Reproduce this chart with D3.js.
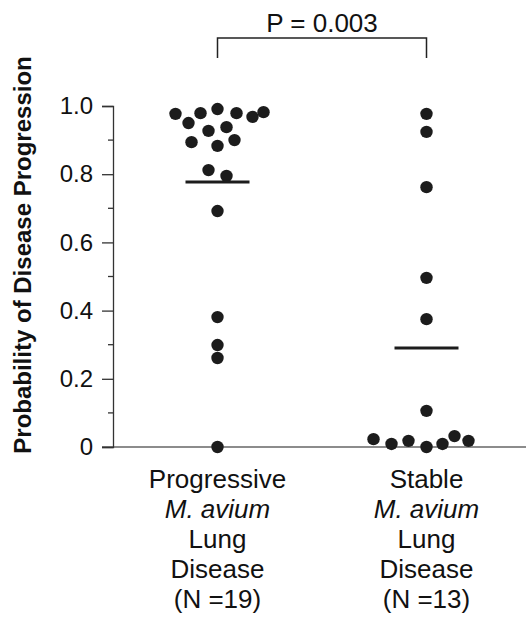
<!DOCTYPE html>
<html>
<head>
<meta charset="utf-8">
<script src="https://cdn.jsdelivr.net/npm/d3@7"></script>
<style>
  body { margin: 0; background: #fff; }
  text { font-family: "Liberation Sans", Arial, Helvetica, sans-serif; fill: #111; }
</style>
</head>
<body>
<script>
// Data
var groups = ["Progressive", "Stable"];
var groupLabels = [
  ["Progressive", "M. avium", "Lung", "Disease", "(N =19)"],
  ["Stable", "M. avium", "Lung", "Disease", "(N =13)"]
];
var progressiveValues = [0.977, 0.950, 0.979, 0.991, 0.979, 0.968, 0.982, 0.927, 0.938, 0.894,
                         0.883, 0.900, 0.812, 0.795, 0.692, 0.381, 0.299, 0.261, 0.0];
var progressiveJitter = [-0.84, -0.58, -0.34, 0, 0.38, 0.70, 0.92, -0.18, 0.18, -0.52,
                         0, 0.34, -0.18, 0.18, 0, 0, 0, 0, 0];
var stableValues = [0.977, 0.924, 0.762, 0.496, 0.375, 0.106, 0.023, 0.009, 0.018, 0.0, 0.009, 0.032, 0.018];
var stableJitter = [0, 0, 0, 0, 0, 0, -1.06, -0.70, -0.36, 0, 0.32, 0.56, 0.84];
var medians = [0.777, 0.290];
var yTicks = [0, 0.2, 0.4, 0.6, 0.8, 1.0];
var yMinorTicks = [0.1, 0.3, 0.5, 0.7, 0.9];
var pLabel = "P = 0.003";

var width = 526, height = 620;
var margin = {top: 106, right: 0, bottom: 173, left: 113};

var svg = d3.select("body").append("svg")
  .attr("width", width).attr("height", height);

var x = d3.scalePoint().domain(groups).range([margin.left, 531]).padding(0.5);
var y = d3.scaleLinear().domain([0, 1]).range([height - margin.bottom, margin.top]);
var jitter = d3.scaleLinear().domain([-1, 1]).range([-50, 50]);

// x baseline
svg.append("line")
  .attr("x1", margin.left - 11).attr("x2", width)
  .attr("y1", y(0)).attr("y2", y(0))
  .attr("stroke", "#666").attr("stroke-width", 1.5);

// y axis
var yAxis = svg.append("g")
  .attr("transform", "translate(" + margin.left + ",0)")
  .call(d3.axisLeft(y).tickValues(yTicks).tickSize(11).tickPadding(9)
    .tickFormat(function(d){ return d === 0 ? "0" : d3.format(".1f")(d); }));
yAxis.select(".domain").attr("stroke", "#333").attr("stroke-width", 1.3);
yAxis.selectAll(".tick line").attr("stroke", "#333").attr("stroke-width", 1.3);
yAxis.selectAll(".tick text").attr("font-size", 24).attr("fill", "#111")
  .style("font-family", "'Liberation Sans', Arial, sans-serif");

yAxis.selectAll(".minor").data(yMinorTicks).enter().append("line")
  .attr("class", "minor")
  .attr("x1", -5).attr("x2", 0)
  .attr("y1", function(d){ return y(d); }).attr("y2", function(d){ return y(d); })
  .attr("stroke", "#333").attr("stroke-width", 1.3);

// y title
svg.append("text")
  .attr("transform", "translate(31,255) rotate(-90)")
  .attr("text-anchor", "middle")
  .attr("font-size", 24).attr("font-weight", "bold")
  .text("Probability of Disease Progression");

// dots
var series = [
  {group: groups[0], values: progressiveValues, jitter: progressiveJitter},
  {group: groups[1], values: stableValues, jitter: stableJitter}
];
series.forEach(function(s){
  svg.append("g").selectAll("circle")
    .data(s.values).enter().append("circle")
    .attr("cx", function(d, i){ return x(s.group) + jitter(s.jitter[i]); })
    .attr("cy", function(d){ return y(d); })
    .attr("r", 6.2)
    .attr("fill", "#1c1c1c");
});

// median bars
svg.append("g").selectAll("line")
  .data(medians).enter().append("line")
  .attr("x1", function(d, i){ return x(groups[i]) - 32; })
  .attr("x2", function(d, i){ return x(groups[i]) + 32; })
  .attr("y1", function(d){ return y(d); })
  .attr("y2", function(d){ return y(d); })
  .attr("stroke", "#1c1c1c").attr("stroke-width", 3);

// significance bracket
var bTop = 38, bBottom = 58;
svg.append("path")
  .attr("d", "M" + x(groups[0]) + "," + bBottom + "V" + bTop + "H" + x(groups[1]) + "V" + bBottom)
  .attr("fill", "none").attr("stroke", "#222").attr("stroke-width", 1.5);
svg.append("text")
  .attr("x", (x(groups[0]) + x(groups[1])) / 2)
  .attr("y", 32)
  .attr("text-anchor", "middle")
  .attr("font-size", 26)
  .text(pLabel);

// category labels
groupLabels.forEach(function(lines, i){
  var t = svg.append("text")
    .attr("text-anchor", "middle")
    .attr("font-size", 26);
  lines.forEach(function(line, j){
    t.append("tspan")
      .attr("x", x(groups[i]))
      .attr("y", 488 + j * 30)
      .style("font-style", j === 1 ? "italic" : "normal")
      .text(line);
  });
});
</script>
</body>
</html>
